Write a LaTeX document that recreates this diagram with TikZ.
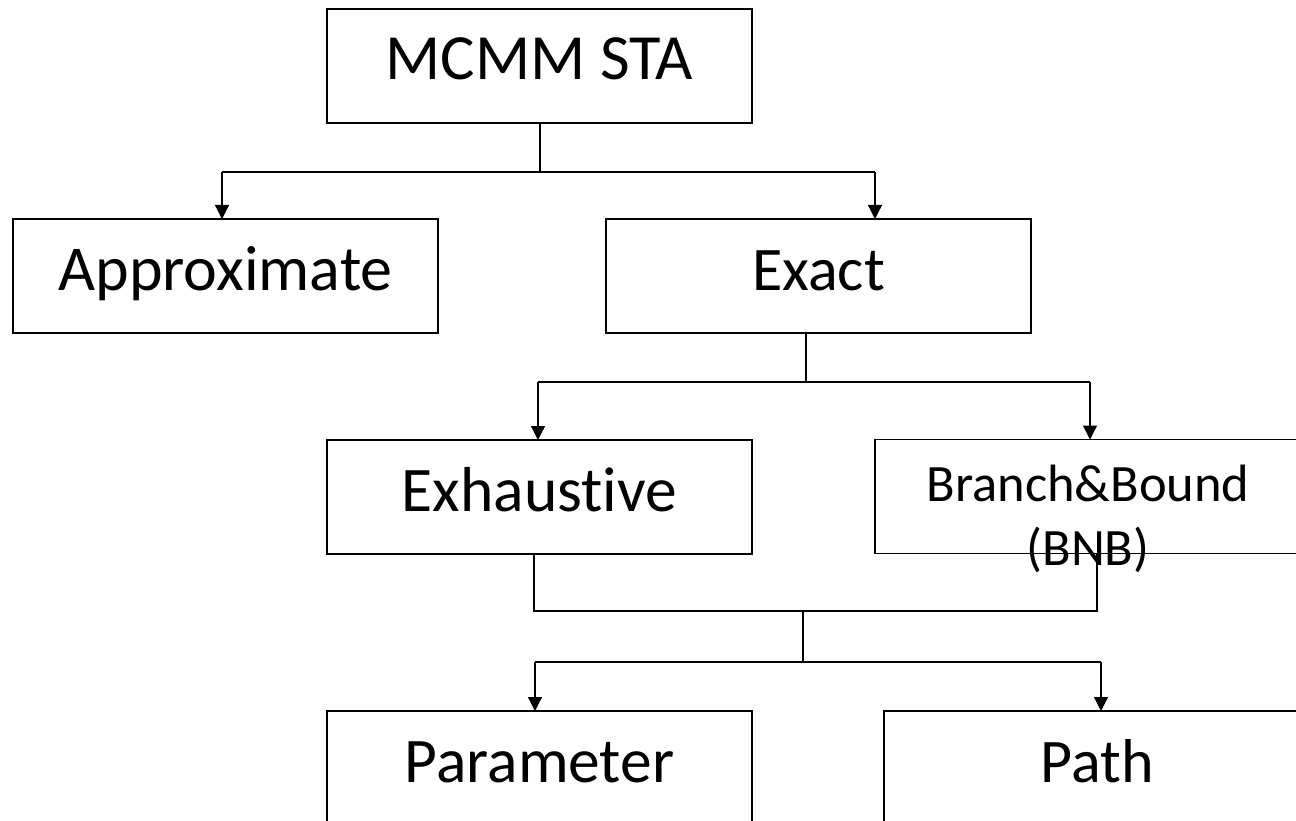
\documentclass[tikz,border=0pt]{standalone}
\usepackage{fontspec}
\setmainfont{Carlito}[Ligatures=NoCommon]
\usetikzlibrary{arrows.meta}
\begin{document}
\begin{tikzpicture}[x=1pt,y=-1pt,
  box/.style={draw, line width=1.8pt, minimum width=425pt, minimum height=114pt, inner sep=0pt, outer sep=0pt},
  txt/.style={font=\fontsize{#1}{75}\selectfont, anchor=base, yshift=-71pt, inner sep=0pt},
  txt/.default=62,
  bnbtxt/.style={font=\fontsize{52.5}{64}\selectfont, anchor=base, yshift=-126pt, inner sep=0pt, align=center},
  conn/.style={line width=1.3pt},
  arr/.style={conn, -{Triangle[length=14pt,width=14pt]}}]
\useasboundingbox (0,0) rectangle (1296,821);
\node[box, label={[txt=64.5, name=mcmmT]north:MCMM STA}] (mcmm) at (539.5,66) {};
\node[box, label={[txt=64, name=apprT]north:Approximate}] (appr) at (225.5,276) {};
\node[box, label={[txt=62, name=exactT]north:Exact}] (exact) at (818.5,276) {};
\node[box, label={[txt=63.5, name=exhT]north:Exhaustive}] (exh) at (539.5,497) {};
\node[box, minimum width=426pt, label={[bnbtxt, name=bnbT]north:{Branch\&Bound\\(BNB)}}] (bnb) at (1088,496.5) {};
\node[box, label={[txt=63.5, name=parT]north:Parameter}] (par) at (539.5,768) {};
\node[box, minimum width=427pt, label={[txt=62, name=pathT]north:Path}] (path) at (1097.5,768) {};
% level 1
\coordinate (s1) at (540,172);
\coordinate (h1l) at (222,172);
\coordinate (h1r) at (875,172);
\draw[conn] (mcmm.south -| s1) -- (s1);
\draw[conn] (h1l) -- (h1r);
\draw[arr] (h1l) -- (h1l |- appr.north);
\draw[arr] (h1r) -- (h1r |- exact.north);
% level 2
\coordinate (s2) at (806,382);
\coordinate (h2l) at (538,382);
\coordinate (h2r) at (1090,382);
\draw[conn] (exact.south -| s2) -- (s2);
\draw[conn] (h2l) -- (h2r);
\draw[arr] (h2l) -- (h2l |- exh.north);
\draw[arr] (h2r) -- (h2r |- bnb.north);
% level 3
\coordinate (e3) at (534,611);
\coordinate (b3) at (1097,611);
\draw[conn] (exh.south -| e3) -- (e3) -- (b3) -- (b3 |- bnb.south);
\coordinate (s3) at (803,611);
\coordinate (s3b) at (803,662);
\coordinate (h3l) at (535,662);
\coordinate (h3r) at (1101,662);
\draw[conn] (s3) -- (s3b);
\draw[conn] (h3l) -- (h3r);
\draw[arr] (h3l) -- (h3l |- par.north);
\draw[arr] (h3r) -- (h3r |- path.north);
\end{tikzpicture}
\end{document}
